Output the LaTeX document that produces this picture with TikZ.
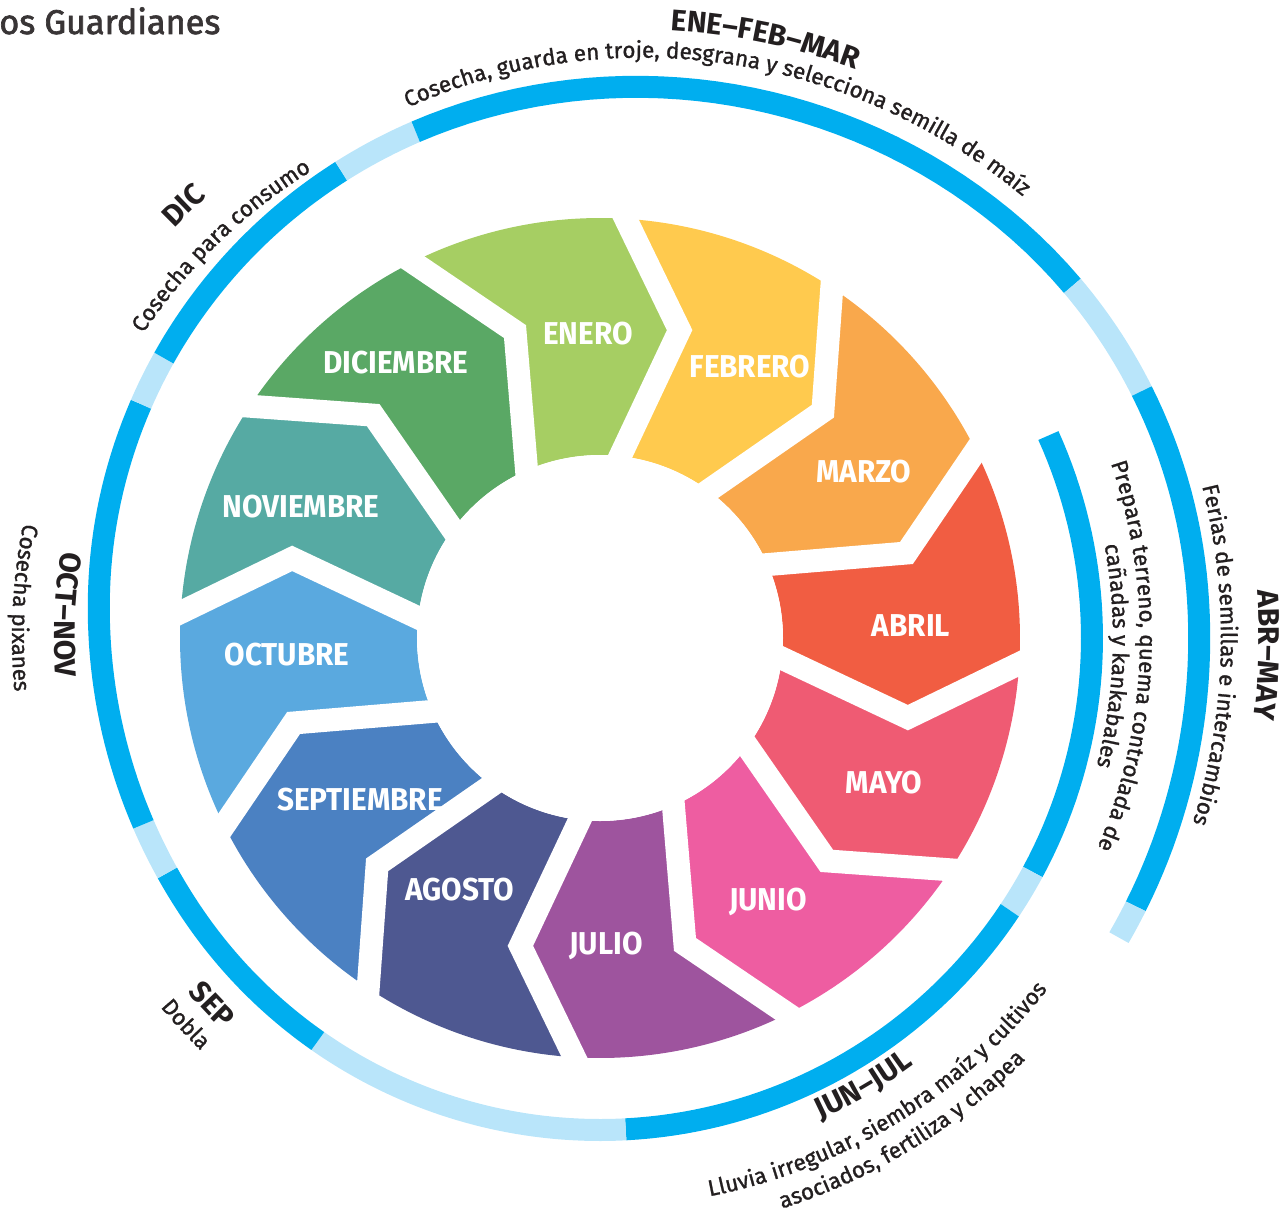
\documentclass[tikz,border=0pt]{standalone}
\usepackage{fontspec}
\setmainfont{Fira Sans}
\newfontfamily\monthfamily{Fira Sans}[FakeStretch=0.94]
\newfontfamily\descfamily{Fira Sans}[FakeBold=1.2]
\newfontfamily\titlefamily{Fira Sans}[FakeBold=2]
\usetikzlibrary{calc,decorations.text}

\definecolor{ene}{HTML}{A6CE63}
\definecolor{feb}{HTML}{FFCA4E}
\definecolor{mar}{HTML}{F9A84C}
\definecolor{abr}{HTML}{F15D42}
\definecolor{may}{HTML}{EF5B73}
\definecolor{jun}{HTML}{EE5DA1}
\definecolor{jul}{HTML}{9E549E}
\definecolor{ago}{HTML}{4E5891}
\definecolor{sep}{HTML}{4B81C2}
\definecolor{oct}{HTML}{5AA9DF}
\definecolor{nov}{HTML}{56AAA3}
\definecolor{dic}{HTML}{5AA865}
\definecolor{ringdark}{HTML}{00AEEF}
\definecolor{ringlight}{HTML}{B9E5FA}
\definecolor{ink}{HTML}{231F20}

\newcommand\headfont{\fontsize{17}{19}\selectfont\bfseries\color{ink}}
\newcommand\descfont{\descfamily\fontsize{12.8}{14}\selectfont\color{ink}}

% text along an arc: start angle, end angle, start radius, end radius, text
\newcommand\arclabel[5]{%
  \path[decorate, decoration={text along path, text align=center, text={#5}}]
    plot[domain=#1:#2, samples=60, variable=\t] (\t:{#3+(#4-#3)*(\t-(#1))/((#2)-(#1))});
}

\tikzset{
  monthlabel/.style={text=white, font=\monthfamily\bfseries\fontsize{18}{20}\selectfont, inner sep=0pt},
  gapline/.style={white, line width=0.46cm, line join=miter},
  ringband/.style={line width=0.44cm, line cap=butt},
}

\begin{document}
\begin{tikzpicture}[x=0.02cm, y=0.02cm,
  declare function={gblend(\u)=((min(max(\u,-20),20)+20)^2)/80+max(\u-20,0);
    ringr(\t)=492+0.55*gblend(0-(\t)-165)+0.25*gblend(0-(\t)-280)-0.8*gblend(0-(\t)-335);}]
  \useasboundingbox (-600,-577) rectangle (687,638);

  % Title
  \node[anchor=base west, inner sep=0pt, font=\titlefamily\fontsize{19.5}{21}\selectfont, text=ink!90] (title) at (-601,604) {os Guardianes};

  % Month segments
  \foreach \col [count=\k from 0] in {ene,feb,mar,abr,may,jun,jul,ago,sep,oct,nov,dic}{
    \pgfmathsetmacro\a{116.5-30*\k}
    \pgfmathsetmacro\b{\a-30}
    \fill[\col] (\a:420) arc[start angle=\a, end angle=\b, radius=420]
      -- ({\b-11}:318) -- (\b:183) arc[start angle=\b, end angle=\a, radius=183]
      -- ({\a-11}:318) -- cycle;
  }

  % White gaps between segments
  \foreach \k in {0,...,11}{
    \pgfmathsetmacro\a{116.5-30*\k}
    \draw[gapline] ($({\a-11}:318)!1.3!(\a:420)$) -- ({\a-11}:318) -- (\a:160);
  }
  \fill[white] (0,0) circle[radius=183];

  % Month labels
  \node[monthlabel] (enero) at (-12,304) {ENERO};
  \node[monthlabel] (febrero) at (150,271) {FEBRERO};
  \node[monthlabel] (marzo) at (264,166) {MARZO};
  \node[monthlabel] (abril) at (311,12) {ABRIL};
  \node[monthlabel] (mayo) at (284,-145) {MAYO};
  \node[monthlabel] (junio) at (168,-264) {JUNIO};
  \node[monthlabel] (julio) at (6,-308) {JULIO};
  \node[monthlabel] (agosto) at (-140,-252) {AGOSTO};
  \node[monthlabel] (septiembre) at (-240,-162) {SEPTIEMBRE};
  \node[monthlabel] (octubre) at (-313,-17) {OCTUBRE};
  \node[monthlabel] (noviembre) at (-299,131) {NOVIEMBRE};
  \node[monthlabel] (diciembre) at (-204,275) {DICIEMBRE};

  % Spiral ring
  \foreach \s/\e/\c in {24.3/-28.4/ringdark, -28.4/-33.6/ringlight, -33.6/-87/ringdark,
      -87/-125/ringlight, -125/-151.5/ringdark, -151.5/-157.8/ringlight, -157.8/-207/ringdark,
      -207/-212.7/ringlight, -212.7/-241/ringdark, -241/-250/ringlight, -250/-323.3/ringdark,
      -323.3/-335.5/ringlight, -335.5/-386.6/ringdark, -386.6/-390/ringlight}
    \draw[ringband, \c] plot[domain=\s:\e, samples=40, variable=\t] (\t:{ringr(\t)});

  % Ring texts, upper half
  \arclabel{115.4}{35.4}{590}{644}{|\headfont|ENE–FEB–MAR}
  \arclabel{150.5}{10.5}{534}{638}{|\descfont|Cosecha, guarda en troje, desgrana y selecciona semilla de maíz}
  \arclabel{163.9}{103.9}{591}{591}{|\headfont|DIC}
  \arclabel{174}{94}{549}{549}{|\descfont|Cosecha para consumo}
  \arclabel{28.5}{-31.5}{659}{659}{|\headfont|ABR–MAY}
  \arclabel{38.4}{-41.6}{621}{621}{|\descfont|Ferias de semillas e intercambios}
  \arclabel{40}{-44}{540}{540}{|\descfont|Prepara terreno, quema controlada de}
  \arclabel{40}{-44}{513}{513}{|\descfont|cañadas y kankabales}

  % Ring texts, lower half
  \arclabel{-89.5}{-29.5}{530}{530}{|\headfont|JUN–JUL}
  \arclabel{-118.5}{1.5}{569}{569}{|\descfont|Lluvia irregular, siembra maíz y cultivos}
  \arclabel{-118.5}{1.5}{599}{599}{|\descfont|asociados, fertiliza y chapea}
  \arclabel{-166.6}{-106.6}{544}{544}{|\headfont|SEP}
  \arclabel{-167}{-107}{574}{574}{|\descfont|Dobla}
  \arclabel{147.5}{207.5}{545.5}{545.5}{|\headfont|OCT–NOV}
  \arclabel{137}{217}{588}{588}{|\descfont|Cosecha pixanes}
\end{tikzpicture}
\end{document}
